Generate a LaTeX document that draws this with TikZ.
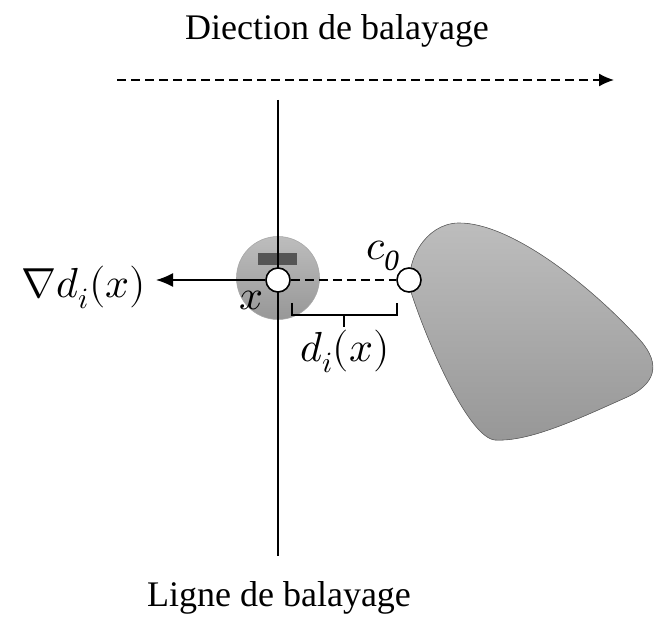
\documentclass[tikz,border=0pt]{standalone}
\usepackage{fontspec}
\setmainfont{Liberation Serif}
\usepackage{unicode-math}
\setmathfont{Latin Modern Math}
\usetikzlibrary{arrows.meta}
\definecolor{lightg}{HTML}{BDBDBD}
\definecolor{darkg}{HTML}{979797}
\definecolor{rectg}{HTML}{555555}
\tikzset{
  lbl/.style={font=\fontsize{36}{40}\selectfont, inner sep=0pt},
  mlbl/.style={font=\fontsize{42}{48}\selectfont, inner sep=0pt},
  pt/.style={circle, draw=black, line width=1.6pt, fill=white, minimum size=24pt, inner sep=0pt},
  ln/.style={line width=1.6pt},
  dsh/.style={line width=1.5pt, dash pattern=on 9pt off 5pt},
}
\begin{document}
\begin{tikzpicture}[x=1pt,y=-1pt]
\useasboundingbox (0,0) rectangle (654,617);
% shape
\fill[top color=lightg, bottom color=darkg, draw=gray!80!black, line width=0.6pt]
  (458,223) .. controls (510,222) and (590,285) .. (640,340)
  .. controls (662,365) and (655,385) .. (625,398)
  .. controls (580,418) and (530,442) .. (495,440)
  .. controls (470,438) and (430,350) .. (411,292)
  .. controls (404,262) and (425,224) .. (458,223) -- cycle;
% gray disc
\node[circle, minimum size=83pt, inner sep=0pt, top color=lightg, bottom color=darkg, draw=gray!70, line width=0.6pt] (disc) at (278,278) {};
\fill[rectg] (258,253) rectangle (297,265);
% vertical scan line
\coordinate (vtop) at (278,100);
\coordinate (vbot) at (278,556);
\draw[ln] (vtop) -- (vbot);
% direction arrow
\coordinate (dl) at (117,80);
\coordinate (dr) at (614,80);
\draw[dsh, -{Latex[length=15pt,width=13pt]}] (dl) -- (dr);
% labels
\node[lbl, anchor=base] (title) at (337,40) {Diection de balayage};
\node[lbl, anchor=base] (ligne) at (279,607) {Ligne de balayage};
% points
\node[pt] (x) at (278,280) {};
\node[pt] (c0) at (409,280) {};
\node[mlbl, anchor=base east] (grad) at (146,298) {$\nabla d_i(x)$};
\draw[ln, -{Latex[length=17pt,width=14pt]}] (x) -- ([xshift=10pt]x -| grad.east);
\draw[dsh] (x) -- (c0);
\node[mlbl, anchor=base] (xl) at (252,310) {$x$};
\node[mlbl, anchor=base west] (cl) at (366,260) {$c_{\mathit{0}}$};
\node[mlbl, anchor=base west] (dl2) at (300,362) {$d_i(x)$};
% bracket
\coordinate (b1) at (292,303);
\coordinate (b2) at (397,303);
\coordinate (bm) at (344,315);
\coordinate (bt) at (344,327);
\draw[line width=1.4pt] (b1) |- (bm) -| (b2);
\draw[line width=1.4pt] (bm) -- (bt);
\end{tikzpicture}
\end{document}
